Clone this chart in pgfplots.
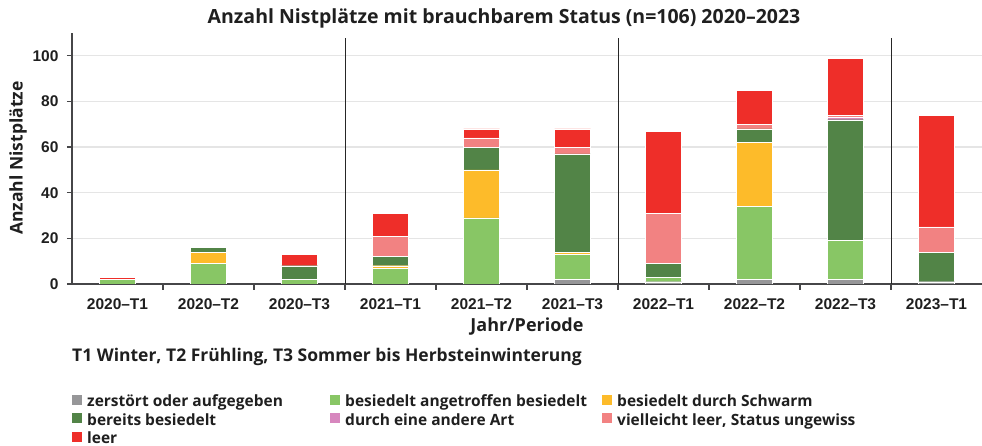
\documentclass[border=0pt]{standalone}
\usepackage{fontspec}
\setmainfont{Open Sans}
\newfontfamily\arialfont{Liberation Sans}
\usepackage{pgfplots}
\usepackage{pgfplotstable}
\pgfplotsset{compat=1.18}
\definecolor{cgray}{RGB}{150,150,152}
\definecolor{clgreen}{RGB}{136,198,101}
\definecolor{cyellow}{RGB}{253,187,42}
\definecolor{cdkgreen}{RGB}{82,132,71}
\definecolor{cpurple}{RGB}{215,135,190}
\definecolor{cpink}{RGB}{242,130,130}
\definecolor{cred}{RGB}{238,46,41}
\definecolor{axisgray}{RGB}{70,70,72}
\pgfplotstableread{
x gray lg yel dk pur pink red
0 0 2 0 0 0 0 1
1 0 9 5 2 0 0 0
2 0 2 0 6 0 0 5
3 0 7 1 4 0 9 10
4 0 29 21 10 0 4 4
5 2 11 1 43 0 3 8
6 1 2 0 6 0 22 36
7 2 32 28 6 0 2 15
8 2 17 0 53 1 1 25
9 1 0 0 13 0 11 49
}\datatable
\begin{document}
\begin{tikzpicture}
\useasboundingbox (-72pt,-162pt) rectangle (910pt,284pt);
\begin{axis}[
  at={(0pt,0pt)}, anchor=south west,
  scale only axis,
  width=910pt, height=251pt,
  xmin=-0.5, xmax=9.5, ymin=0, ymax=110,
  enlarge x limits=false,
  ybar stacked, bar width=36pt,
  axis x line*=bottom, axis y line*=left,
  axis line style={draw=axisgray, line width=1.2pt},
  tick align=outside,
  xtick={0,...,9},
  xticklabels={2020–T1,2020–T2,2020–T3,2021–T1,2021–T2,2021–T3,2022–T1,2022–T2,2022–T3,2023–T1},
  xtick style={draw=none},
  minor xtick={0.5,1.5,...,8.5},
  minor tick length=6pt,
  minor x tick style={draw=axisgray, line width=1.2pt},
  ytick={0,20,...,100},
  major tick length=5pt,
  ytick style={draw=axisgray, line width=1.2pt},
  ymajorgrids,
  major grid style={draw=black!10, line width=1.3pt},
  /pgf/number format/assume math mode=true,
  ticklabel style={font=\arialfont\bfseries\fontsize{15.5}{17}\selectfont, text=black!88},
  xticklabel style={yshift=-6pt},
  yticklabel style={xshift=-5pt},
  legend columns=3,
  legend style={at={(axis description cs:0,-0.44)}, anchor=north west, draw=none, fill=none,
    font=\bfseries\fontsize{15.5}{17}\selectfont, text=black!88,
    inner sep=0pt, row sep=1.5pt,
    nodes={inner ysep=0pt, inner xsep=2pt, text height=11pt, text depth=5pt},
    /tikz/every odd column/.append style={column sep=3pt}},
  legend cell align=left,
  legend image code/.code={\path[#1, draw=none] (0pt,-1pt) rectangle (10pt,9pt);},
  every axis plot/.append style={draw=white, line width=0.3pt},
]
\addplot[fill=cgray] table[x=x, y=gray] {\datatable};
\addplot[fill=clgreen] table[x=x, y=lg] {\datatable};
\addplot[fill=cyellow] table[x=x, y=yel] {\datatable};
\addplot[fill=cdkgreen] table[x=x, y=dk] {\datatable};
\addplot[fill=cpurple] table[x=x, y=pur] {\datatable};
\addplot[fill=cpink] table[x=x, y=pink] {\datatable};
\addplot[fill=cred] table[x=x, y=red] {\datatable};
\legend{\makebox[241pt][l]{zerstört oder aufgegeben},\makebox[255pt][l]{besiedelt angetroffen besiedelt},besiedelt durch Schwarm,
\makebox[241pt][l]{bereits besiedelt},\makebox[255pt][l]{durch eine andere Art},{vielleicht leer, Status ungewiss},
\makebox[241pt][l]{leer}}
\draw[black!85, line width=0.9pt] (axis cs:2.5,0) -- (axis cs:2.5,108);
\draw[black!85, line width=0.9pt] (axis cs:5.5,0) -- (axis cs:5.5,108);
\draw[black!85, line width=0.9pt] (axis cs:8.5,0) -- (axis cs:8.5,108);
\end{axis}
\node[font=\bfseries\fontsize{19.5}{21}\selectfont, text=black!88] at (432pt,266pt) {Anzahl Nistplätze mit brauchbarem Status (n=106) 2020–2023};
\node[font=\bfseries\fontsize{17.5}{19}\selectfont, text=black!88, rotate=90] at (-54pt,126pt) {Anzahl Nistplätze};
\node[font=\bfseries\fontsize{18}{20}\selectfont, text=black!88] at (455pt,-43pt) {Jahr/Periode};
\node[font=\bfseries\fontsize{17.5}{19}\selectfont, text=black!88, anchor=west, inner sep=0pt] at (0pt,-73pt) {T1 Winter, T2 Frühling, T3 Sommer bis Herbsteinwinterung};
\end{tikzpicture}
\end{document}
